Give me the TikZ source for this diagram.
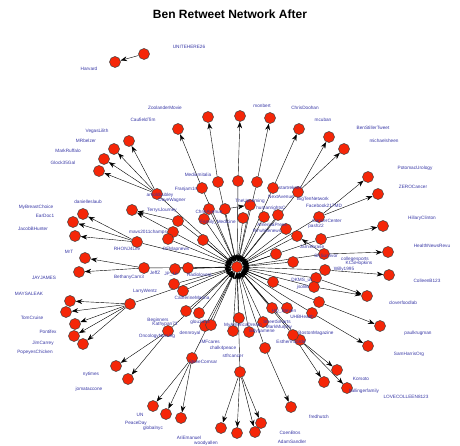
\documentclass[tikz,border=0pt]{standalone}
\usepackage{fontspec}
\setmainfont{Liberation Sans}
\usepackage{color}
\definecolor{myred}{RGB}{245,38,8}
\definecolor{myblue}{RGB}{55,55,165}
\usepackage{tikz}
\usetikzlibrary{arrows.meta,backgrounds,positioning}
\tikzstyle{vertex}=[draw=black!75,fill=myred,circle,line width=0.5pt,minimum size=11pt,inner sep=0pt]
\tikzstyle{handle}=[text=myblue,font=\fontsize{4.7}{5}\selectfont,inner sep=0pt]

\begin{document}
\begin{tikzpicture}[x=1pt,y=-1pt,line width=0.8pt,>={Stealth[length=6.5pt,width=4.8pt]}]
\useasboundingbox (0,0) rectangle (460,446);
\node[font=\bfseries\fontsize{12}{14}\selectfont] (title) at (230,14) {Ben Retweet Network After};

% hub
\draw (237,267) node [vertex] (ben) {};
% first level (retweet ben)
\draw (157,194) node [vertex] (v1) {};
\draw (202,188) node [vertex] (v2) {};
\draw (218,182) node [vertex] (v3) {};
\draw (238,181) node [vertex] (v4) {};
\draw (257,182) node [vertex] (v5) {};
\draw (273,188) node [vertex] (v6) {};
\draw (298,192) node [vertex] (v7) {};
\draw (319,217) node [vertex] (v8) {};
\draw (321,239) node [vertex] (v9) {};
\draw (324,254) node [vertex] (v10) {};
\draw (325,270) node [vertex] (v11) {};
\draw (316,278) node [vertex] (v12) {};
\draw (314,287) node [vertex] (v13) {};
\draw (319,302) node [vertex] (v14) {};
\draw (312,313) node [vertex] (v15) {};
\draw (300,340) node [vertex] (v16) {};
\draw (293,335) node [vertex] (v17) {};
\draw (265,348) node [vertex] (v18) {};
\draw (240,372) node [vertex] (v19) {};
\draw (192,358) node [vertex] (v20) {};
\draw (168,331) node [vertex] (v21) {};
\draw (130,304) node [vertex] (v22) {};
\draw (137,242) node [vertex] (v23) {};
\draw (144,268) node [vertex] (v24) {};
\draw (209,209) node [vertex] (v25) {};
\draw (225,209) node [vertex] (v26) {};
\draw (204,219) node [vertex] (v27) {};
\draw (243,218) node [vertex] (v28) {};
\draw (264,217) node [vertex] (v29) {};
\draw (278,215) node [vertex] (v30) {};
\draw (286,229) node [vertex] (v31) {};
\draw (297,236) node [vertex] (v32) {};
\draw (178,221) node [vertex] (v33) {};
\draw (173,232) node [vertex] (v34) {};
\draw (168,239) node [vertex] (v35) {};
\draw (203,240) node [vertex] (v36) {};
\draw (276,254) node [vertex] (v37) {};
\draw (293,262) node [vertex] (v38) {};
\draw (175,269) node [vertex] (v39) {};
\draw (188,268) node [vertex] (v40) {};
\draw (174,284) node [vertex] (v41) {};
\draw (183,291) node [vertex] (v42) {};
\draw (273,282) node [vertex] (v43) {};
\draw (186,311) node [vertex] (v44) {};
\draw (199,313) node [vertex] (v45) {};
\draw (205,326) node [vertex] (v46) {};
\draw (211,325) node [vertex] (v47) {};
\draw (239,318) node [vertex] (v48) {};
\draw (233,331) node [vertex] (v49) {};
\draw (249,332) node [vertex] (v50) {};
\draw (263,322) node [vertex] (v51) {};
\draw (272,308) node [vertex] (v52) {};
\draw (287,308) node [vertex] (v53) {};
\draw (250,205) node [vertex] (v54) {};
\draw (132,210) node [vertex] (v55) {};
% second level
\draw (129,141) node [vertex] (v56) {};
\draw (114,149) node [vertex] (v57) {};
\draw (104,159) node [vertex] (v58) {};
\draw (99,171) node [vertex] (v59) {};
\draw (178,129) node [vertex] (v60) {};
\draw (208,117) node [vertex] (v61) {};
\draw (240,116) node [vertex] (v62) {};
\draw (270,118) node [vertex] (v63) {};
\draw (299,129) node [vertex] (v64) {};
\draw (329,137) node [vertex] (v65) {};
\draw (344,149) node [vertex] (v66) {};
\draw (368,177) node [vertex] (v67) {};
\draw (378,194) node [vertex] (v68) {};
\draw (383,226) node [vertex] (v69) {};
\draw (388,252) node [vertex] (v70) {};
\draw (389,275) node [vertex] (v71) {};
\draw (367,296) node [vertex] (v72) {};
\draw (380,326) node [vertex] (v73) {};
\draw (368,346) node [vertex] (v74) {};
\draw (337,370) node [vertex] (v75) {};
\draw (347,388) node [vertex] (v76) {};
\draw (324,382) node [vertex] (v77) {};
\draw (291,407) node [vertex] (v78) {};
\draw (221,428) node [vertex] (v79) {};
\draw (237,433) node [vertex] (v80) {};
\draw (255,432) node [vertex] (v81) {};
\draw (261,423) node [vertex] (v82) {};
\draw (153,406) node [vertex] (v83) {};
\draw (166,414) node [vertex] (v84) {};
\draw (181,418) node [vertex] (v85) {};
\draw (116,366) node [vertex] (v86) {};
\draw (128,379) node [vertex] (v87) {};
\draw (70,301) node [vertex] (v88) {};
\draw (66,312) node [vertex] (v89) {};
\draw (75,324) node [vertex] (v90) {};
\draw (74,336) node [vertex] (v91) {};
\draw (83,344) node [vertex] (v92) {};
\draw (83,214) node [vertex] (v93) {};
\draw (73,222) node [vertex] (v94) {};
\draw (75,236) node [vertex] (v95) {};
\draw (85,258) node [vertex] (v96) {};
\draw (79,272) node [vertex] (v97) {};
% the lone pair
\draw (144,54) node [vertex] (v98) {};
\draw (115,62) node [vertex] (v99) {};

\begin{scope}[on background layer]
\foreach \i in {1,...,54}
  \draw[->] (v\i) -- (ben);
\foreach \a/\b in {1/56,1/57,1/58,1/59,2/60,3/61,4/62,5/63,6/64,7/65,7/66,
    8/67,8/68,9/69,10/70,10/32,11/71,12/72,13/72,14/73,15/74,16/75,16/76,
    17/77,18/78,19/79,19/80,19/81,19/82,20/83,20/84,20/85,21/86,21/87,
    22/88,22/89,22/90,22/91,22/92,23/93,23/94,23/95,24/96,24/97,
    26/54,33/55,34/55,98/99}
  \draw[->] (v\a) -- (v\b);
\end{scope}

% handles
\node[handle] (unitehere) at (189,47) {UNITEHERE26};
\node[handle] (harvard) at (89,69) {Harvard};
\node[handle] (zoolander) at (165,108) {ZoolanderMovie};
\node[handle] (caufield) at (143,120) {CaufieldTim};
\node[handle] (vegaslilith) at (97,131) {VegasLilith};
\node[handle] (mrbelzer) at (86,141) {MRbelzer};
\node[handle] (markruffalo) at (68,151) {MarkRuffalo};
\node[handle] (glock) at (63,163) {Glock35Gal};
\node[handle] (monbert) at (262,106) {monbert};
\node[handle] (chrisdoohan) at (305,108) {ChrisDoohan};
\node[handle] (mcuban) at (323,120) {mcuban};
\node[handle] (benstiller) at (373,128) {BenStillerTweet};
\node[handle] (michaelsheen) at (384,141) {michaelsheen};
\node[handle] (danielle) at (88,202) {danielleslaub};
\node[handle] (mybreast) at (36,207) {MyBreastChoice};
\node[handle] (eardoc) at (45,216) {EarDoc1};
\node[handle] (jacob) at (33,229) {JacobBHunter};
\node[handle] (mrt) at (69,252) {MrT};
\node[handle] (jayjames) at (44,278) {JAYJAMES};
\node[handle] (maysaleak) at (29,294) {MAYSALEAK};
\node[handle] (tomcruise) at (32,318) {TomCruise};
\node[handle] (pontifex) at (48,332) {Pontifex};
\node[handle] (jimcarrey) at (43,343) {JimCarrey};
\node[handle] (popeyes) at (35,352) {PopeyesChicken};
\node[handle] (nytimes) at (91,374) {nytimes};
\node[handle] (jomat) at (89,389) {jomataccone};
\node[handle] (un) at (140,415) {UN};
\node[handle] (peaceday) at (136,423) {PeaceDay};
\node[handle] (globalnyc) at (153,428) {globalnyc};
\node[handle] (ariemanuel) at (189,438) {AriEmanuel};
\node[handle] (woodyallen) at (206,443) {woodyallen};
\node[handle] (potomac) at (415,168) {PotomacUrology};
\node[handle] (zerocancer) at (413,187) {ZEROCancer};
\node[handle] (hillary) at (422,218) {HillaryClinton};
\node[handle] (healthnews) at (432,246) {HealthNewsRevu};
\node[handle] (colleen) at (427,281) {ColleenB123};
\node[handle] (clover) at (403,303) {cloverfoodlab};
\node[handle] (krugman) at (418,333) {paulkrugman};
\node[handle] (samharris) at (409,354) {SamHarrisOrg};
\node[handle] (korsoto) at (361,379) {Korsoto};
\node[handle] (ballinger) at (364,391) {ballingerfamily};
\node[handle] (lovecolleen) at (406,397) {LOVECOLLEEN8123};
\node[handle] (fredhutch) at (319,417) {fredhutch};
\node[handle] (coenbros) at (290,433) {CoenBros};
\node[handle] (adamsandler) at (292,442) {AdamSandler};
% crowded middle
\node[handle] (mediumitalia) at (198,175) {Mediumitalia};
\node[handle] (franjam) at (186,189) {Franjam1n};
\node[handle] (arnold) at (160,195) {arnoldcubley};
\node[handle] (davewag) at (172,200) {DaveWagner};
\node[handle] (terrys) at (162,210) {TerrysJourney};
\node[handle] (christ) at (209,212) {ChrisAvenue};
\node[handle] (familymed) at (218,222) {Family\_Medicine};
\node[handle] (upcoming) at (250,201) {TheUpcoming};
\node[handle] (startrek) at (290,188) {startreknet};
\node[handle] (nextavenue) at (281,197) {NextAvenue};
\node[handle] (bigten) at (313,199) {BigTenNetwork};
\node[handle] (humanrights) at (271,208) {humanrightsC};
\node[handle] (facebook) at (324,206) {Facebook217MD};
\node[handle] (cancercenter) at (327,221) {CancerCenter};
\node[handle] (pash) at (316,226) {pash22};
\node[handle] (america) at (272,225) {AmericaPress};
\node[handle] (wbtv) at (267,231) {NYwhitenews};
\node[handle] (jamiebrase) at (312,247) {Jamiebrase};
\node[handle] (sks) at (326,256) {SKSurvivor};
\node[handle] (college) at (355,259) {collegesports};
\node[handle] (kcsh) at (359,263) {KCSHopkins};
\node[handle] (willy) at (344,269) {Willy1995};
\node[handle] (mavs) at (148,232) {mavs2011champs};
\node[handle] (rhonj) at (127,249) {RHONJ4Life};
\node[handle] (ofmap) at (176,249) {OFMapnews};
\node[handle] (bethany) at (129,277) {BethanyCam3};
\node[handle] (jeffz) at (155,273) {JeffZ};
\node[handle] (jp) at (171,274) {JP\_16};
\node[handle] (radio) at (200,275) {RadiolovesL};
\node[handle] (larry) at (145,291) {LarryWentz};
\node[handle] (catherine) at (192,298) {CatherineManna};
\node[handle] (beginners) at (158,320) {Beginners};
\node[handle] (kathy) at (165,324) {Kathypan73};
\node[handle] (glou) at (200,322) {glou3333};
\node[handle] (oncology) at (157,336) {OncologyNursing};
\node[handle] (dennroyal) at (190,333) {dennroyal};
\node[handle] (imfcares) at (210,342) {IMFcares};
\node[handle] (chalk) at (223,348) {chalk4peace};
\node[handle] (stfr) at (233,356) {stfrcancer};
\node[handle] (steve) at (203,362) {SteveComsar};
\node[handle] (dreams) at (243,325) {MyAmericaDream};
\node[handle] (street) at (277,322) {StreetSmarts};
\node[handle] (murphy) at (279,327) {MarkMurphy};
\node[handle] (gamene) at (262,331) {ladygamene};
\node[handle] (hq) at (284,311) {HQ\_Steven};
\node[handle] (uhb) at (302,317) {UHBHealth};
\node[handle] (boston) at (316,333) {BostonMagazine};
\node[handle] (esther) at (291,342) {Esthermcorde};
\node[handle] (jsolite) at (303,287) {jsolite};
\node[handle] (dkms) at (302,280) {DKMS\_us};
\end{tikzpicture}
\end{document}
